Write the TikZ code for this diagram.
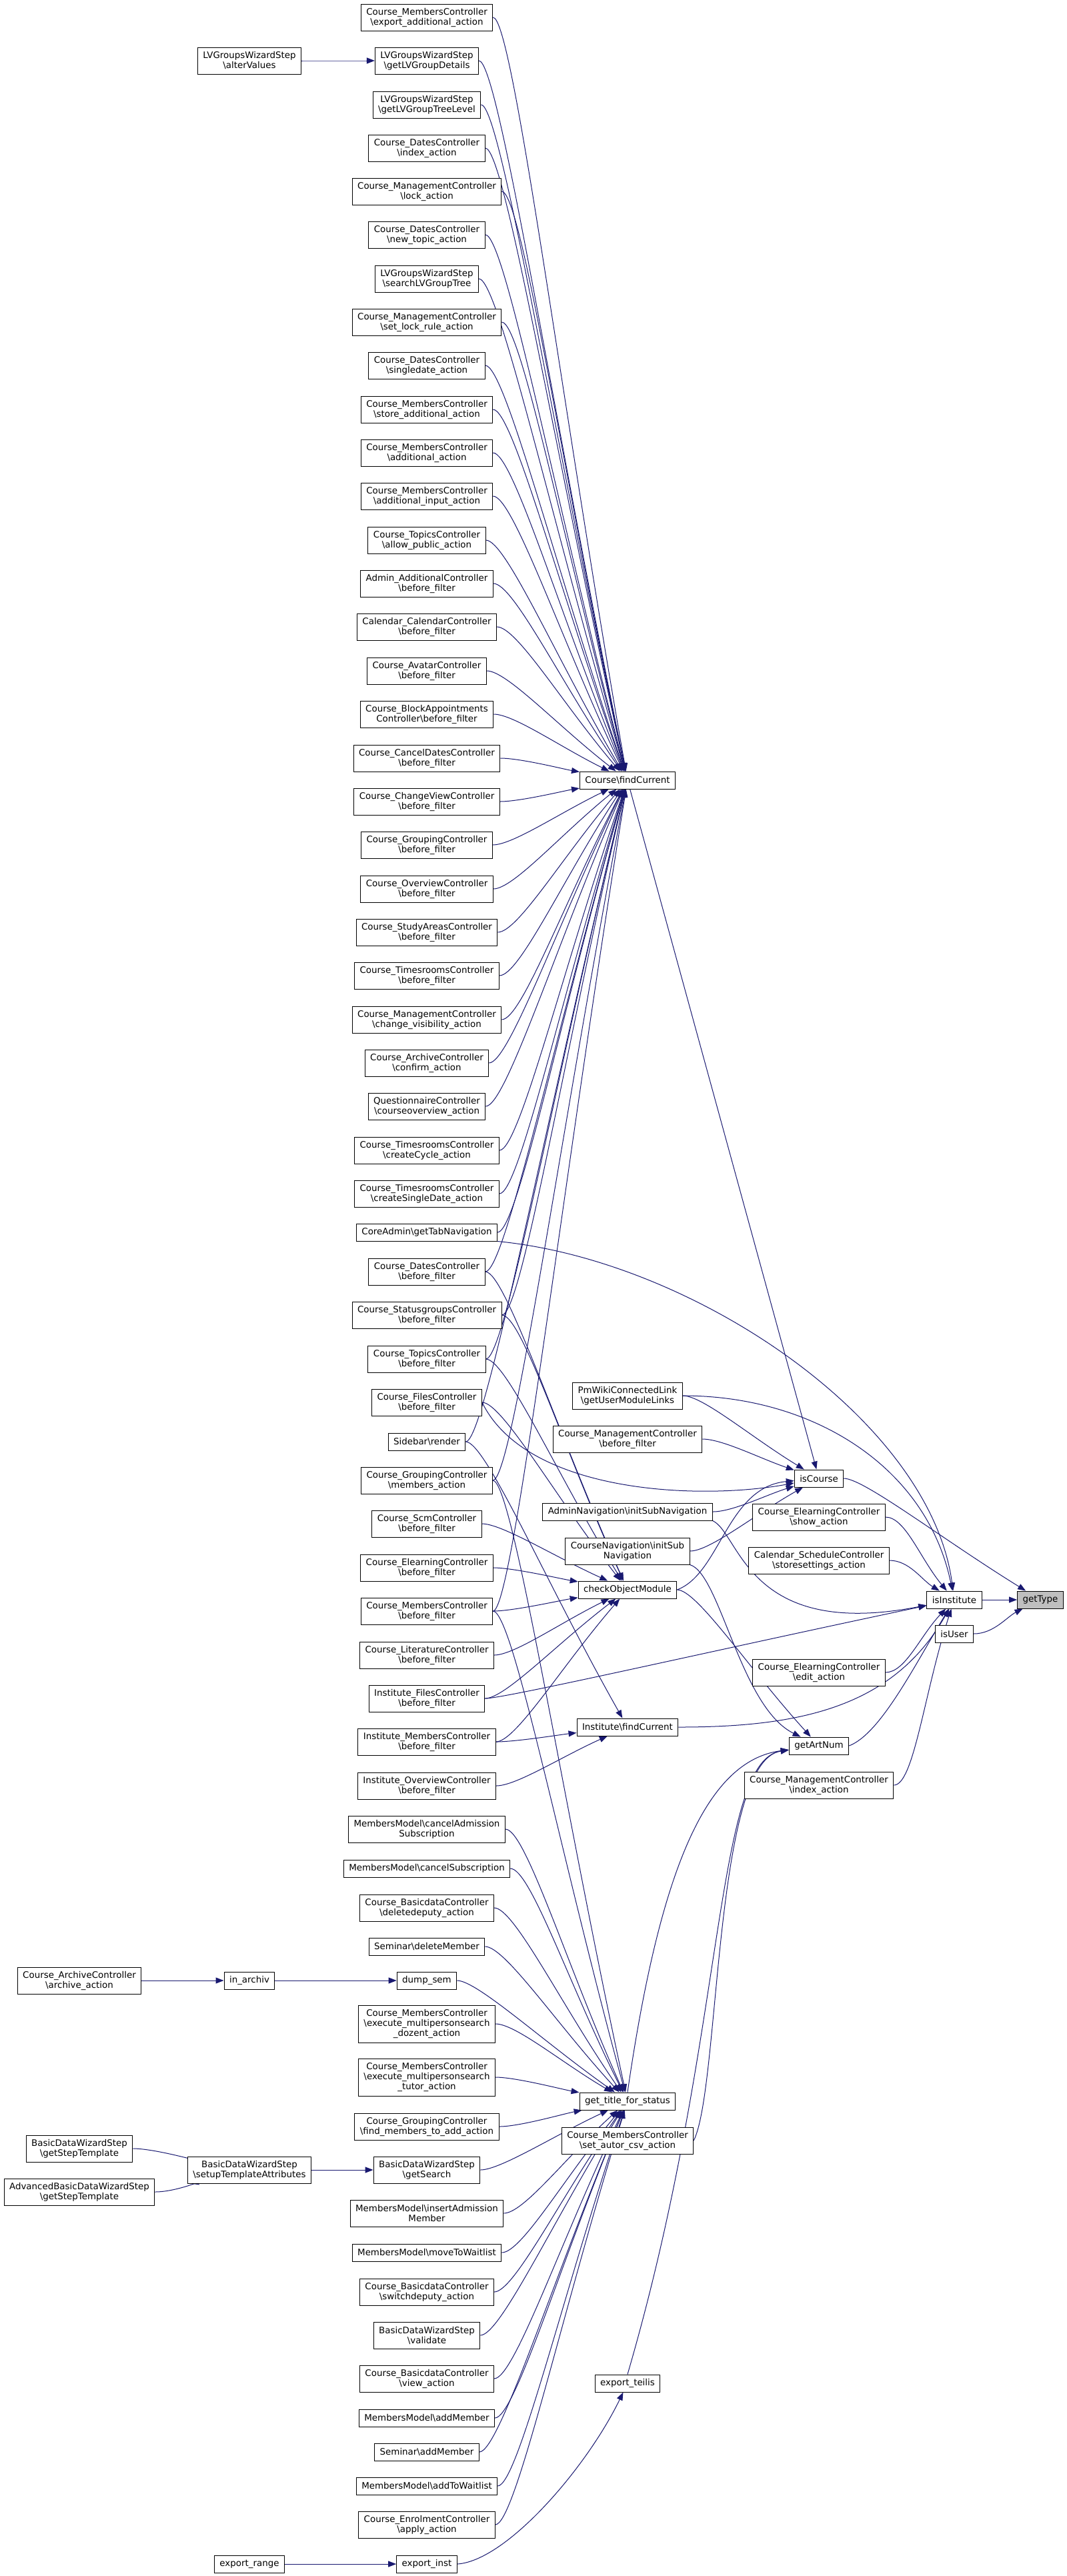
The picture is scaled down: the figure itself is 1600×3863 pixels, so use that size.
\documentclass[tikz,border=0pt]{standalone}
\usepackage{fontspec}
\newfontfamily\doxfont{DejaVu Sans}
\usetikzlibrary{arrows.meta, calc}
\newcommand{\bsl}{\textbackslash}
\definecolor{edgeblue}{HTML}{191970}
\definecolor{rootgray}{HTML}{BFBFBF}
\pgfdeclarelayer{edges}
\pgfsetlayers{edges,main}

\begin{document}
\begin{tikzpicture}[x=1pt, y=-1pt,
	call/.style={edgeblue, line width=1pt, -{Triangle[length=12pt, width=9pt]}},
	fn/.style={draw=black, line width=1pt, fill=white, font=\doxfont\fontsize{13.4}{15}\selectfont, align=center, inner xsep=8pt, inner ysep=2pt, minimum height=26pt},
	fntwo/.style={fn, minimum height=40pt},
	fnthree/.style={fn, minimum height=56pt}]
	\useasboundingbox (0,0) rectangle (1600,3863);

	% callers of Course\findCurrent
	\node[fntwo] (a1) at (640, 26) {Course\_MembersController\\\bsl export\_additional\_action};
	\node[fntwo] (a2) at (640, 91) {LVGroupsWizardStep\\\bsl getLVGroupDetails};
	\node[fntwo] (a3) at (640, 157) {LVGroupsWizardStep\\\bsl getLVGroupTreeLevel};
	\node[fntwo] (a4) at (640, 222) {Course\_DatesController\\\bsl index\_action};
	\node[fntwo] (a5) at (640, 287) {Course\_ManagementController\\\bsl lock\_action};
	\node[fntwo] (a6) at (640, 352) {Course\_DatesController\\\bsl new\_topic\_action};
	\node[fntwo] (a7) at (640, 418) {LVGroupsWizardStep\\\bsl searchLVGroupTree};
	\node[fntwo] (a8) at (640, 483) {Course\_ManagementController\\\bsl set\_lock\_rule\_action};
	\node[fntwo] (a9) at (640, 548) {Course\_DatesController\\\bsl singledate\_action};
	\node[fntwo] (a10) at (640, 614) {Course\_MembersController\\\bsl store\_additional\_action};
	\node[fntwo] (a11) at (640, 679) {Course\_MembersController\\\bsl additional\_action};
	\node[fntwo] (a12) at (640, 744) {Course\_MembersController\\\bsl additional\_input\_action};
	\node[fntwo] (a13) at (640, 810) {Course\_TopicsController\\\bsl allow\_public\_action};
	\node[fntwo] (a14) at (640, 875) {Admin\_AdditionalController\\\bsl before\_filter};
	\node[fntwo] (a15) at (640, 940) {Calendar\_CalendarController\\\bsl before\_filter};
	\node[fntwo] (a16) at (640, 1006) {Course\_AvatarController\\\bsl before\_filter};
	\node[fntwo] (a17) at (640, 1071) {Course\_BlockAppointments\\Controller\bsl before\_filter};
	\node[fntwo] (a18) at (640, 1137) {Course\_CancelDatesController\\\bsl before\_filter};
	\node[fntwo] (a19) at (640, 1202) {Course\_ChangeViewController\\\bsl before\_filter};
	\node[fntwo] (a20) at (640, 1267) {Course\_GroupingController\\\bsl before\_filter};
	\node[fntwo] (a21) at (640, 1333) {Course\_OverviewController\\\bsl before\_filter};
	\node[fntwo] (a22) at (640, 1398) {Course\_StudyAreasController\\\bsl before\_filter};
	\node[fntwo] (a23) at (640, 1463) {Course\_TimesroomsController\\\bsl before\_filter};
	\node[fntwo] (a24) at (640, 1529) {Course\_ManagementController\\\bsl change\_visibility\_action};
	\node[fntwo] (a25) at (640, 1594) {Course\_ArchiveController\\\bsl confirm\_action};
	\node[fntwo] (a26) at (640, 1659) {QuestionnaireController\\\bsl courseoverview\_action};
	\node[fntwo] (a27) at (640, 1725) {Course\_TimesroomsController\\\bsl createCycle\_action};
	\node[fntwo] (a28) at (640, 1790) {Course\_TimesroomsController\\\bsl createSingleDate\_action};
	\node[fn] (b1) at (640, 1848) {CoreAdmin\bsl getTabNavigation};
	\node[fntwo] (b2) at (640, 1907) {Course\_DatesController\\\bsl before\_filter};
	\node[fntwo] (b3) at (640, 1972) {Course\_StatusgroupsController\\\bsl before\_filter};
	\node[fntwo] (b4) at (640, 2038) {Course\_TopicsController\\\bsl before\_filter};
	\node[fntwo] (b5) at (640, 2103) {Course\_FilesController\\\bsl before\_filter};
	\node[fn] (b6) at (640, 2162) {Sidebar\bsl render};
	\node[fntwo] (b7) at (640, 2220) {Course\_GroupingController\\\bsl members\_action};
	\node[fntwo] (b8) at (640, 2285) {Course\_ScmController\\\bsl before\_filter};
	\node[fntwo] (b9) at (640, 2351) {Course\_ElearningController\\\bsl before\_filter};
	\node[fntwo] (b10) at (640, 2416) {Course\_MembersController\\\bsl before\_filter};
	\node[fntwo] (b11) at (640, 2482) {Course\_LiteratureController\\\bsl before\_filter};
	\node[fntwo] (b12) at (640, 2547) {Institute\_FilesController\\\bsl before\_filter};
	\node[fntwo] (b13) at (640, 2612) {Institute\_MembersController\\\bsl before\_filter};
	\node[fntwo] (b14) at (640, 2678) {Institute\_OverviewController\\\bsl before\_filter};

	% callers of get_title_for_status
	\node[fntwo] (c1) at (640, 2743) {MembersModel\bsl cancelAdmission\\Subscription};
	\node[fn] (c2) at (640, 2802) {MembersModel\bsl cancelSubscription};
	\node[fntwo] (c3) at (640, 2861) {Course\_BasicdataController\\\bsl deletedeputy\_action};
	\node[fn] (c4) at (640, 2919) {Seminar\bsl deleteMember};
	\node[fn] (c5) at (640, 2970) {dump\_sem};
	\node[fnthree] (c6) at (640, 3035) {Course\_MembersController\\\bsl execute\_multipersonsearch\\\_dozent\_action};
	\node[fnthree] (c7) at (640, 3115) {Course\_MembersController\\\bsl execute\_multipersonsearch\\\_tutor\_action};
	\node[fntwo] (c8) at (640, 3189) {Course\_GroupingController\\\bsl find\_members\_to\_add\_action};
	\node[fntwo] (c9) at (640, 3254) {BasicDataWizardStep\\\bsl getSearch};
	\node[fntwo] (c10) at (640, 3319) {MembersModel\bsl insertAdmission\\Member};
	\node[fn] (c11) at (640, 3378) {MembersModel\bsl moveToWaitlist};
	\node[fntwo] (c12) at (640, 3437) {Course\_BasicdataController\\\bsl switchdeputy\_action};
	\node[fntwo] (c13) at (640, 3502) {BasicDataWizardStep\\\bsl validate};
	\node[fntwo] (c14) at (640, 3567) {Course\_BasicdataController\\\bsl view\_action};
	\node[fn] (c15) at (640, 3626) {MembersModel\bsl addMember};
	\node[fn] (c16) at (640, 3677) {Seminar\bsl addMember};
	\node[fn] (c17) at (640, 3728) {MembersModel\bsl addToWaitlist};
	\node[fntwo] (c18) at (640, 3786) {Course\_EnrolmentController\\\bsl apply\_action};
	\node[fn] (c19) at (640, 3845) {export\_inst};

	% outer callers
	\node[fntwo] (alter) at (374, 91) {LVGroupsWizardStep\\\bsl alterValues};
	\node[fn] (inarchiv) at (374, 2970) {in\_archiv};
	\node[fntwo] (setup) at (374, 3254) {BasicDataWizardStep\\\bsl setupTemplateAttributes};
	\node[fn] (exprange) at (374, 3845) {export\_range};
	\node[fntwo] (archive) at (119, 2970) {Course\_ArchiveController\\\bsl archive\_action};
	\node[fntwo] (steptpl) at (119, 3222) {BasicDataWizardStep\\\bsl getStepTemplate};
	\node[fntwo] (advtpl) at (119, 3287) {AdvancedBasicDataWizardStep\\\bsl getStepTemplate};

	% middle column
	\node[fn] (cfind) at (941, 1170) {Course\bsl findCurrent};
	\node[fntwo] (pmwiki) at (941, 2093) {PmWikiConnectedLink\\\bsl getUserModuleLinks};
	\node[fntwo] (mgmtbf) at (941, 2158) {Course\_ManagementController\\\bsl before\_filter};
	\node[fn] (adminnav) at (941, 2267) {AdminNavigation\bsl initSubNavigation};
	\node[fntwo] (coursenav) at (941, 2326) {CourseNavigation\bsl initSub\\Navigation};
	\node[fn] (chkmod) at (941, 2384) {checkObjectModule};
	\node[fn] (ifind) at (941, 2590) {Institute\bsl findCurrent};
	\node[fn] (title) at (941, 3151) {get\_title\_for\_status};
	\node[fntwo] (autor) at (941, 3210) {Course\_MembersController\\\bsl set\_autor\_csv\_action};
	\node[fn] (teilis) at (941, 3574) {export\_teilis};

	\node[fn] (iscourse) at (1228, 2217) {isCourse};
	\node[fntwo] (show) at (1228, 2275) {Course\_ElearningController\\\bsl show\_action};
	\node[fntwo] (sched) at (1228, 2340) {Calendar\_ScheduleController\\\bsl storesettings\_action};
	\node[fntwo] (edit) at (1228, 2508) {Course\_ElearningController\\\bsl edit\_action};
	\node[fn] (artnum) at (1228, 2618) {getArtNum};
	\node[fntwo] (mindex) at (1228, 2677) {Course\_ManagementController\\\bsl index\_action};

	\node[fn] (isinst) at (1431, 2399) {isInstitute};
	\node[fn] (isuser) at (1431, 2450) {isUser};
	\node[fn, fill=rootgray] (gettype) at (1560, 2399) {getType};

	\begin{pgfonlayer}{edges}
	% generic calls
	\foreach \s/\d in {a1/cfind, a2/cfind, a3/cfind, a4/cfind, a5/cfind, a6/cfind, a7/cfind, a8/cfind, a9/cfind, a10/cfind,
			a11/cfind, a12/cfind, a13/cfind, a14/cfind, a15/cfind, a16/cfind, a17/cfind, a18/cfind, a19/cfind, a20/cfind,
			a21/cfind, a22/cfind, a23/cfind, a24/cfind, a25/cfind, a26/cfind, a27/cfind, a28/cfind,
			b1/cfind, b2/cfind, b3/cfind, b4/cfind, b6/cfind, b7/cfind, b10/cfind,
			b2/chkmod, b3/chkmod, b4/chkmod, b5/chkmod, b8/chkmod, b9/chkmod, b10/chkmod, b11/chkmod, b12/chkmod, b13/chkmod,
			b6/ifind, b13/ifind, b14/ifind, b12/isinst,
			b7/title, b10/title, c1/title, c2/title, c3/title, c4/title, c5/title, c6/title, c7/title, c8/title, c9/title,
			c10/title, c11/title, c12/title, c13/title, c14/title, c15/title, c16/title, c17/title, c18/title,
			pmwiki/iscourse, mgmtbf/iscourse, adminnav/iscourse, coursenav/iscourse,
			chkmod/artnum, show/isinst, sched/isinst, edit/isinst, mindex/isinst,
			iscourse/gettype, isinst/gettype, isuser/gettype,
			alter/a2, archive/inarchiv, inarchiv/c5, steptpl/setup, advtpl/setup, setup/c9, exprange/c19}
		\draw[call] (\s.east) .. controls +(30,0) and ($(\d)!.5!(\s.east)$) .. (\d);

	% straight and curved calls
	\draw[call] (cfind) -- (iscourse);
	\draw[call] (b1.south east) .. controls (1040,1890) and (1395,2130) .. (isinst);
	\draw[call] (pmwiki.east) .. controls (1220,2093) and (1390,2200) .. (isinst);
	\draw[call] (b5.east) .. controls (790,2240) and (1050,2250) .. (iscourse);
	\draw[call] (adminnav.south east) .. controls (1110,2300) and (1120,2460) .. (isinst);
	\draw[call] (chkmod.east) .. controls (1080,2360) and (1090,2230) .. (iscourse);
	\draw[call] (coursenav.south east) .. controls (1080,2360) and (1110,2560) .. (artnum);
	\draw[call] (ifind.east) .. controls (1200,2590) and (1340,2560) .. (isinst);
	\draw[call] (artnum.east) .. controls (1320,2600) and (1370,2500) .. (isinst);
	\draw[call] (title.north) .. controls (990,2800) and (1060,2640) .. (artnum);
	\draw[call] (autor.east) .. controls (1080,3130) and (1070,2640) .. (artnum);
	\draw[call] (teilis.north) .. controls (1090,3050) and (1070,2640) .. (artnum);
	\draw[call] (c19.east) .. controls (760,3840) and (880,3700) .. (teilis);
	\end{pgfonlayer}
\end{tikzpicture}
\end{document}
